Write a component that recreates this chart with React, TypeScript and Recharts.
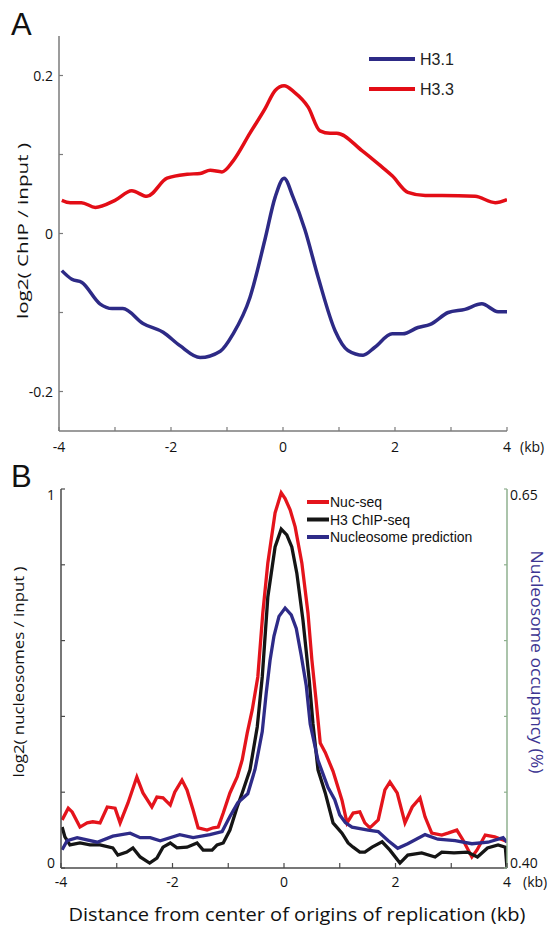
import React from 'react';
import { LineChart, Line, XAxis, YAxis } from 'recharts';

// ---------- Panel A data (kb, log2 ChIP/input) ----------
const h31A: [number, number][] = [
  [-3.95, -0.047], [-3.77, -0.058], [-3.59, -0.062], [-3.27, -0.089], [-3.05, -0.095],
  [-2.86, -0.095], [-2.5, -0.114], [-2.14, -0.125], [-1.84, -0.142], [-1.48, -0.157],
  [-1.12, -0.149], [-0.89, -0.127], [-0.59, -0.081], [-0.32, -0.007], [-0.14, 0.046],
  [0.02, 0.07], [0.18, 0.046], [0.39, 0.005], [0.63, -0.056], [0.93, -0.123],
  [1.16, -0.148], [1.43, -0.154], [1.64, -0.144], [1.95, -0.127], [2.14, -0.127],
  [2.41, -0.119], [2.63, -0.115], [2.95, -0.1], [3.25, -0.096], [3.55, -0.089],
  [3.84, -0.099], [4.0, -0.099],
];
const h33A: [number, number][] = [
  [-3.95, 0.042], [-3.8, 0.039], [-3.6, 0.039], [-3.35, 0.033], [-3.0, 0.042],
  [-2.7, 0.054], [-2.43, 0.047], [-2.07, 0.07], [-1.71, 0.075], [-1.48, 0.076],
  [-1.3, 0.08], [-1.09, 0.078], [-0.89, 0.092], [-0.59, 0.127], [-0.32, 0.158],
  [-0.14, 0.181], [0.02, 0.187], [0.2, 0.179], [0.45, 0.16], [0.66, 0.13],
  [0.84, 0.127], [0.96, 0.127], [1.41, 0.105], [1.77, 0.084], [1.95, 0.073],
  [2.23, 0.052], [2.54, 0.048], [2.84, 0.048], [3.43, 0.047], [3.79, 0.039], [4.0, 0.043],
];

// ---------- Panel B data ----------
const nucSeqB: [number, number][] = [
  [-3.98, 0.127], [-3.87, 0.158], [-3.8, 0.148], [-3.66, 0.108], [-3.53, 0.119], [-3.43, 0.122],
  [-3.3, 0.119], [-3.17, 0.161], [-3.03, 0.158], [-2.94, 0.119], [-2.8, 0.171], [-2.64, 0.24],
  [-2.53, 0.198], [-2.37, 0.161], [-2.28, 0.187], [-2.17, 0.185], [-2.04, 0.166], [-1.96, 0.2],
  [-1.83, 0.232], [-1.74, 0.206], [-1.63, 0.153], [-1.54, 0.106], [-1.38, 0.1], [-1.27, 0.106],
  [-1.18, 0.108], [-1.09, 0.145], [-0.97, 0.198], [-0.84, 0.24], [-0.75, 0.285], [-0.66, 0.356],
  [-0.57, 0.417], [-0.47, 0.504], [-0.38, 0.673], [-0.29, 0.805], [-0.16, 0.937], [-0.05, 0.99],
  [0.02, 0.975], [0.11, 0.945], [0.2, 0.9], [0.32, 0.805], [0.43, 0.673], [0.5, 0.549],
  [0.57, 0.45], [0.65, 0.33], [0.74, 0.305], [0.88, 0.255], [1.04, 0.179], [1.13, 0.119],
  [1.24, 0.145], [1.36, 0.148], [1.45, 0.119], [1.54, 0.106], [1.69, 0.127], [1.81, 0.206],
  [1.9, 0.227], [2.03, 0.198], [2.17, 0.119], [2.3, 0.161], [2.44, 0.185], [2.53, 0.135],
  [2.65, 0.092], [2.83, 0.087], [2.94, 0.092], [3.1, 0.1], [3.21, 0.074], [3.37, 0.029],
  [3.46, 0.047], [3.61, 0.087], [3.78, 0.082], [3.93, 0.074], [4.0, 0.07],
];
const h3ChipB: [number, number][] = [
  [-3.98, 0.108], [-3.93, 0.082], [-3.84, 0.061], [-3.66, 0.066], [-3.48, 0.061], [-3.3, 0.061],
  [-3.07, 0.053], [-2.98, 0.034], [-2.82, 0.042], [-2.71, 0.053], [-2.58, 0.029], [-2.41, 0.013],
  [-2.28, 0.026], [-2.17, 0.055], [-2.04, 0.066], [-1.92, 0.053], [-1.74, 0.055], [-1.56, 0.066],
  [-1.45, 0.047], [-1.29, 0.047], [-1.2, 0.061], [-1.09, 0.066], [-0.97, 0.1], [-0.84, 0.161],
  [-0.75, 0.198], [-0.61, 0.259], [-0.48, 0.372], [-0.39, 0.504], [-0.29, 0.715], [-0.16, 0.847],
  [-0.05, 0.894], [0.05, 0.879], [0.14, 0.847], [0.23, 0.778], [0.34, 0.654], [0.45, 0.5],
  [0.52, 0.38], [0.61, 0.259], [0.74, 0.198], [0.88, 0.119], [1.04, 0.092], [1.15, 0.066],
  [1.24, 0.055], [1.36, 0.042], [1.45, 0.042], [1.58, 0.055], [1.76, 0.069], [1.9, 0.047],
  [2.08, 0.013], [2.22, 0.034], [2.47, 0.04], [2.71, 0.029], [2.83, 0.042], [3.05, 0.04],
  [3.29, 0.042], [3.47, 0.029], [3.65, 0.053], [3.84, 0.061], [3.97, 0.055], [4.0, 0.0],
];
// nucleosome prediction, in occupancy units (right axis)
const predB: [number, number][] = [
  [-3.98, 0.412], [-3.89, 0.418], [-3.71, 0.42], [-3.35, 0.417], [-3.07, 0.421], [-2.76, 0.423],
  [-2.58, 0.42], [-2.4, 0.42], [-2.22, 0.418], [-1.87, 0.422], [-1.63, 0.42], [-1.33, 0.422],
  [-1.11, 0.424], [-0.97, 0.434], [-0.83, 0.443], [-0.65, 0.449], [-0.52, 0.465], [-0.39, 0.49],
  [-0.32, 0.515], [-0.25, 0.537], [-0.18, 0.553], [-0.09, 0.566], [0.02, 0.5715], [0.13, 0.567],
  [0.22, 0.558], [0.31, 0.54], [0.4, 0.52], [0.47, 0.495], [0.61, 0.471], [0.79, 0.453],
  [0.91, 0.445], [1.0, 0.435], [1.1, 0.43], [1.22, 0.427], [1.51, 0.425], [1.69, 0.424],
  [1.87, 0.418], [2.04, 0.413], [2.22, 0.416], [2.53, 0.422], [2.76, 0.419], [3.07, 0.418],
  [3.37, 0.416], [3.66, 0.417], [3.93, 0.42], [4.0, 0.417],
];

// ---------- ticks ----------
const xTicks = [-4, -3, -2, -1, 0, 1, 2, 3, 4];
const xTickLabels: [number, string][] = [[-4, '-4'], [-2, '-2'], [0, '0'], [2, '2'], [4, '4']];
const aYTicks = [-0.2, -0.1, 0, 0.1, 0.2];
const aYTickLabels: [number, string][] = [[0.2, '0.2'], [0, '0'], [-0.2, '-0.2']];
const bYTicks = [0, 0.2, 0.4, 0.6, 0.8, 1];
const bYTickLabels: [number, string][] = [[1, '1'], [0, '0']];
const bRTicks = [0.4, 0.45, 0.5, 0.55, 0.6, 0.65];
const bRTickLabels: [number, string][] = [[0.65, '0.65'], [0.4, '0.40']];

const seriesA = [
  { name: 'H3.1', color: '#2d2a86' },
  { name: 'H3.3', color: '#e30d16' },
];
const seriesB = [
  { name: 'Nuc-seq', color: '#e4141c' },
  { name: 'H3 ChIP-seq', color: '#151515' },
  { name: 'Nucleosome prediction', color: '#2e2b88' },
];

const toRows = (pts: [number, number][]) => pts.map(([x, y]) => ({ x, y }));

const AX_FONT = '"Open Sans", "DejaVu Sans", sans-serif';
const LEG_FONT = '"Liberation Sans", Arial, sans-serif';

type TickCfg = {
  orient: 'bottom' | 'left' | 'right';
  labels: [number, string][];
  len: number;
  stroke: string;
  min?: number;
  max?: number;
  labelDy?: number;
};

const makeTick = (cfg: TickCfg) => (props: any) => {
  const { x, y, payload } = props;
  const v = payload.value;
  const hit = cfg.labels.find(([lv]) => Math.abs(lv - v) < 1e-9);
  const txt = hit ? hit[1] : null;
  let line;
  let label = null;
  if (cfg.orient === 'bottom') {
    line = <line x1={x} y1={y} x2={x} y2={y - cfg.len} stroke={cfg.stroke} strokeWidth={1.2} />;
    if (txt)
      label = (
        <text x={x} y={y + (cfg.labelDy ?? 20)} textAnchor="middle" fontFamily={AX_FONT} fontSize={14} fill="#111">
          {txt}
        </text>
      );
  } else {
    const dir = cfg.orient === 'left' ? 1 : -1;
    line = <line x1={x} y1={y} x2={x + dir * cfg.len} y2={y} stroke={cfg.stroke} strokeWidth={1.2} />;
    let shift = 0;
    if (cfg.max !== undefined && Math.abs(v - cfg.max) < 1e-9) shift = 6;
    if (cfg.min !== undefined && Math.abs(v - cfg.min) < 1e-9) shift = -5;
    if (txt)
      label = (
        <text
          x={cfg.orient === 'left' ? x - 6 : x + 3}
          y={y + 5 + shift}
          textAnchor={cfg.orient === 'left' ? 'end' : 'start'}
          fontFamily={AX_FONT}
          fontSize={14}
          fill="#111"
        >
          {txt}
        </text>
      );
  }
  return (
    <g>
      {line}
      {label}
    </g>
  );
};

export default function App() {
  const aAxis = '#7b7b7b';
  const bAxis = '#4a4a4a';
  const bRight = '#8fb08f';
  return (
    <div style={{ position: 'absolute', left: 0, top: 0, width: 550, height: 927, background: '#fff' }}>
      <div style={{ position: 'absolute', left: 0, top: 0 }}>
        <LineChart width={550} height={460} margin={{ top: 36, right: 43, bottom: 0, left: 0 }}>
          <XAxis
            type="number"
            dataKey="x"
            domain={[-4, 4]}
            ticks={xTicks}
            interval={0}
            height={29}
            tickSize={0}
            tickMargin={0}
            tickLine={false}
            axisLine={{ stroke: aAxis, strokeWidth: 1.5 }}
            tick={makeTick({ orient: 'bottom', labels: xTickLabels, len: 4, stroke: aAxis, labelDy: 21 })}
            allowDataOverflow
          />
          <YAxis
            type="number"
            domain={[-0.25, 0.25]}
            ticks={aYTicks}
            interval={0}
            width={59}
            tickSize={0}
            tickMargin={0}
            tickLine={false}
            axisLine={{ stroke: aAxis, strokeWidth: 1.5 }}
            tick={makeTick({ orient: 'left', labels: aYTickLabels, len: 4, stroke: aAxis })}
            allowDataOverflow
          />
          <Line data={toRows(h33A)} dataKey="y" type="monotone" stroke={seriesA[1].color} strokeWidth={3.5} dot={false} isAnimationActive={false} />
          <Line data={toRows(h31A)} dataKey="y" type="monotone" stroke={seriesA[0].color} strokeWidth={3.5} dot={false} isAnimationActive={false} />
        </LineChart>
      </div>
      <div style={{ position: 'absolute', left: 0, top: 460 }}>
        <LineChart width={550} height={467} margin={{ top: 29, right: 0, bottom: 0, left: 0 }}>
          <XAxis
            type="number"
            dataKey="x"
            domain={[-4, 4]}
            ticks={xTicks}
            interval={0}
            height={59}
            tickSize={0}
            tickMargin={0}
            tickLine={false}
            axisLine={{ stroke: bAxis, strokeWidth: 1.5 }}
            tick={makeTick({ orient: 'bottom', labels: xTickLabels, len: 5, stroke: bAxis, labelDy: 19 })}
            allowDataOverflow
          />
          <YAxis
            yAxisId="left"
            type="number"
            domain={[0, 1]}
            ticks={bYTicks}
            interval={0}
            width={61}
            tickSize={0}
            tickMargin={0}
            tickLine={false}
            axisLine={{ stroke: bAxis, strokeWidth: 1.5 }}
            tick={makeTick({ orient: 'left', labels: bYTickLabels, len: 4, stroke: bAxis, min: 0, max: 1 })}
            allowDataOverflow
          />
          <YAxis
            yAxisId="right"
            orientation="right"
            type="number"
            domain={[0.4, 0.65]}
            ticks={bRTicks}
            interval={0}
            width={43}
            tickSize={0}
            tickMargin={0}
            tickLine={false}
            axisLine={{ stroke: bRight, strokeWidth: 1.5 }}
            tick={makeTick({ orient: 'right', labels: bRTickLabels, len: 3, stroke: bRight, min: 0.4, max: 0.65 })}
            allowDataOverflow
          />
          <Line yAxisId="left" data={toRows(nucSeqB)} dataKey="y" type="linear" stroke={seriesB[0].color} strokeWidth={3.3} dot={false} isAnimationActive={false} />
          <Line yAxisId="left" data={toRows(h3ChipB)} dataKey="y" type="linear" stroke={seriesB[1].color} strokeWidth={3.3} dot={false} isAnimationActive={false} />
          <Line yAxisId="right" data={toRows(predB)} dataKey="y" type="linear" stroke={seriesB[2].color} strokeWidth={3.3} dot={false} isAnimationActive={false} />
        </LineChart>
      </div>
      <svg
        width={550}
        height={927}
        style={{ position: 'absolute', left: 0, top: 0, pointerEvents: 'none' }}
      >
        <text x={11} y={35} fontFamily={LEG_FONT} fontSize={31} fill="#111">A</text>
        <text x={11} y={487} fontFamily={LEG_FONT} fontSize={31} fill="#111">B</text>

        {seriesA.map((s, i) => (
          <g key={s.name}>
            <line x1={369} x2={415} y1={59 + i * 30} y2={59 + i * 30} stroke={s.color} strokeWidth={4} />
            <text x={420} y={65 + i * 30} fontFamily={LEG_FONT} fontSize={16} fill="#222">{s.name}</text>
          </g>
        ))}
        {seriesB.map((s, i) => (
          <g key={s.name}>
            <line x1={307} x2={329} y1={502 + i * 17.5} y2={502 + i * 17.5} stroke={s.color} strokeWidth={4} />
            <text x={330} y={507 + i * 17.5} fontFamily={LEG_FONT} fontSize={14} fill="#111">{s.name}</text>
          </g>
        ))}

        <text
          transform="translate(28,231) rotate(-90)"
          textAnchor="middle"
          fontFamily={AX_FONT}
          fontSize={14.5}
          textLength={176}
          lengthAdjust="spacingAndGlyphs"
          fill="#111"
        >
          log2( ChIP / input )
        </text>
        <text
          transform="translate(24,672) rotate(-90)"
          textAnchor="middle"
          fontFamily={AX_FONT}
          fontSize={14.5}
          textLength={211}
          lengthAdjust="spacingAndGlyphs"
          fill="#111"
        >
          log2( nucleosomes / input )
        </text>
        <text
          transform="translate(531,662) rotate(90)"
          textAnchor="middle"
          fontFamily={AX_FONT}
          fontSize={16.5}
          textLength={223}
          lengthAdjust="spacingAndGlyphs"
          fill="#3d3592"
        >
          Nucleosome occupancy (%)
        </text>
        <text x={520} y={452} fontFamily={AX_FONT} fontSize={14} fill="#111">(kb)</text>
        <text x={523} y={887} fontFamily={AX_FONT} fontSize={14} fill="#111">(kb)</text>
        <text
          x={297}
          y={921}
          textAnchor="middle"
          fontFamily={AX_FONT}
          fontSize={17.5}
          textLength={457}
          lengthAdjust="spacingAndGlyphs"
          fill="#111"
        >
          Distance from center of origins of replication (kb)
        </text>
      </svg>
    </div>
  );
}
